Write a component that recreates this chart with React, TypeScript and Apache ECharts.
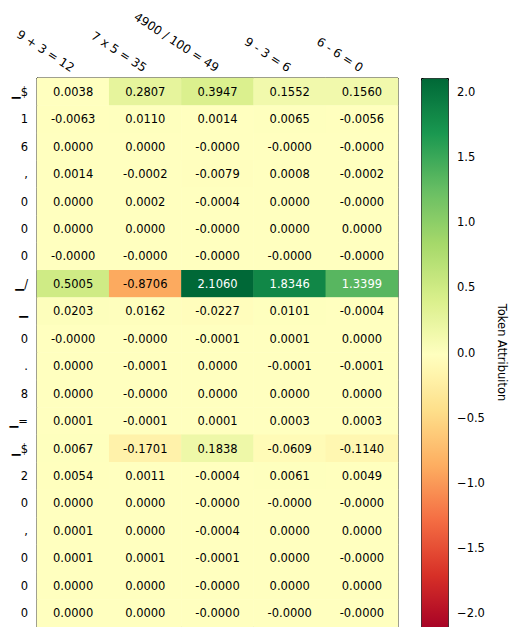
import React, { useEffect, useRef } from "react";
import * as echarts from "echarts";

const problems = ["9 + 3 = 12", "7 x 5 = 35", "4900 / 100 = 49", "9 - 3 = 6", "6 - 6 = 0"];
const tokens = ["▁$", "1", "6", ",", "0", "0", "0", "▁/", "▁", "0", ".", "8", "▁=", "▁$", "2", "0", ",", "0", "0", "0"];
const attributions: number[][] = [
  [0.0038, 0.2807, 0.3947, 0.1552, 0.156],
  [-0.0063, 0.011, 0.0014, 0.0065, -0.0056],
  [0.0, 0.0, -0, -0, -0],
  [0.0014, -0.0002, -0.0079, 0.0008, -0.0002],
  [0.0, 0.0002, -0.0004, 0.0, -0],
  [0.0, 0.0, -0, 0.0, 0.0],
  [-0, -0, -0, -0, -0],
  [0.5005, -0.8706, 2.106, 1.8346, 1.3399],
  [0.0203, 0.0162, -0.0227, 0.0101, -0.0004],
  [-0, -0, -0.0001, 0.0001, 0.0],
  [0.0, -0.0001, 0.0, -0.0001, -0.0001],
  [0.0, -0, 0.0, 0.0, 0.0],
  [0.0001, -0.0001, 0.0001, 0.0003, 0.0003],
  [0.0067, -0.1701, 0.1838, -0.0609, -0.114],
  [0.0054, 0.0011, -0.0004, 0.0061, 0.0049],
  [0.0, 0.0, -0, -0, -0],
  [0.0001, 0.0, -0.0004, 0.0, 0.0],
  [0.0001, 0.0001, -0.0001, 0.0, -0],
  [0.0, 0.0, -0, 0.0, 0.0],
  [0.0, 0.0, -0, -0, -0],
];
const colorbarTicks = [-2, -1.5, -1, -0.5, 0, 0.5, 1, 1.5, 2];
const vLimit = 2.106;
const rdYlGn = ["#a50026", "#d73027", "#f46d43", "#fdae61", "#fee08b", "#ffffbf", "#d9ef8b", "#a6d96a", "#66bd63", "#1a9850", "#006837"];

const FONT = "DejaVu Sans";

function fmt(v: number): string {
  const neg = v < 0 || Object.is(v, -0);
  return (neg ? "-" : "") + Math.abs(v).toFixed(4);
}

export default function App() {
  const ref = useRef<HTMLDivElement>(null);
  useEffect(() => {
    if (!ref.current) return;
    const chart = echarts.init(ref.current, undefined, { renderer: "svg" });
    const cells = attributions.flatMap((row, r) =>
      row.map((v, c) => ({
        value: [c, r, v],
        raw: v,
        label: { color: Math.abs(v) > 1 ? "#ffffff" : "#000000" },
      }))
    );
    const top = 78;
    const h = 552;
    chart.setOption({
      animation: false,
      textStyle: { fontFamily: FONT },
      grid: [
        { left: 37, width: 361, top, height: h, show: true, borderColor: "#000", borderWidth: 1, backgroundColor: "transparent" },
        { left: 421, width: 27, top, height: h, show: false },
      ],
      xAxis: [
        {
          type: "category",
          gridIndex: 0,
          position: "top",
          data: problems,
          axisLine: { lineStyle: { color: "#000" } },
          axisTick: { alignWithLabel: true, length: 4, lineStyle: { color: "#000" } },
          axisLabel: { rotate: 33, color: "#000", fontSize: 12, fontFamily: FONT, margin: 9, interval: 0 },
          splitLine: { show: false },
        },
        { type: "value", gridIndex: 1, show: false },
      ],
      yAxis: [
        {
          type: "category",
          gridIndex: 0,
          inverse: true,
          data: tokens,
          axisLine: { lineStyle: { color: "#000" } },
          axisTick: { alignWithLabel: true, length: 4, lineStyle: { color: "#000" } },
          axisLabel: { color: "#000", fontSize: 11.5, fontFamily: FONT, margin: 9, interval: 0 },
          splitLine: { show: false },
        },
        {
          type: "value",
          gridIndex: 1,
          position: "right",
          min: -vLimit,
          max: vLimit,
          axisLine: { show: false },
          splitLine: { show: false },
          axisTick: { show: true, length: 4, customValues: colorbarTicks, lineStyle: { color: "#000" } },
          axisLabel: {
            customValues: colorbarTicks,
            color: "#000",
            fontSize: 11.5,
            fontFamily: FONT,
            margin: 9,
            formatter: (v: number) => v.toFixed(1).replace("-", "\u2212"),
          },
          name: "Token Attribuiton",
          nameLocation: "middle",
          nameRotate: -90,
          nameGap: 48,
          nameTextStyle: { color: "#000", fontSize: 11.5, fontFamily: FONT },
        },
      ],
      visualMap: {
        type: "continuous",
        min: -vLimit,
        max: vLimit,
        calculable: false,
        orient: "vertical",
        left: 421,
        top,
        itemWidth: 27,
        itemHeight: h,
        padding: 0,
        text: ["", ""],
        showLabel: false,
        borderColor: "#000",
        borderWidth: 1,
        inRange: { color: rdYlGn },
        seriesIndex: 0,
      },
      series: [
        {
          type: "heatmap",
          xAxisIndex: 0,
          yAxisIndex: 0,
          data: cells,
          itemStyle: { borderWidth: 0 },
          emphasis: { disabled: true },
          label: {
            show: true,
            fontSize: 11.5,
            fontFamily: FONT,
            formatter: (p: any) => fmt(cells[p.dataIndex].raw),
          },
        },
      ],
    });
    return () => chart.dispose();
  }, []);
  return <div ref={ref} style={{ position: "absolute", left: 0, top: 0, width: 509, height: 627 }} />;
}
